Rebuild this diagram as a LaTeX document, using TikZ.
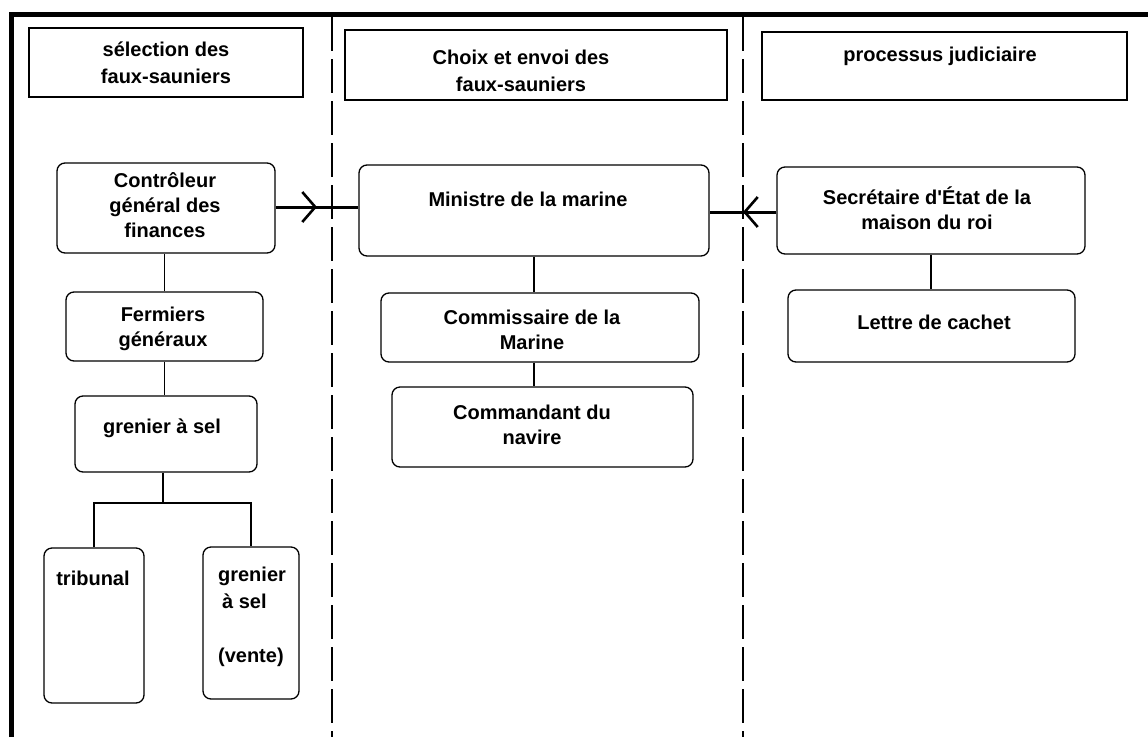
\documentclass[tikz,border=0pt]{standalone}
\usepackage{fontspec}
\setmainfont{Liberation Sans}
\usetikzlibrary{arrows.meta,decorations.markings}
\begin{document}
\begin{tikzpicture}[x=1pt,y=-1pt,
 frame/.style={line width=4.8pt},
 lane/.style={line width=1.2pt, dash pattern=on 34pt off 8pt},
 headbox/.style={draw, line width=1.3pt, rectangle, inner sep=0pt},
 box/.style={draw, line width=1.3pt, rounded corners=8pt, inner sep=0pt},
 htxt/.style={font=\fontsize{20}{26.5}\selectfont\bfseries, align=center, inner sep=0pt},
 btxt/.style={font=\fontsize{20}{25}\selectfont\bfseries, align=center, inner sep=0pt},
 tree/.style={line width=1.2pt},
 flow/.style={line width=3pt, postaction={decorate}, decoration={markings, mark=at position 0.5 with {\arrow{Straight Barb[length=13pt,width=30pt,line width=2.6pt]}}}},
]
\useasboundingbox (0,0) rectangle (1148,737);
% frame
\draw[frame] (11.7,737) -- (11.7,14.3) -- (1148,14.3);
% lanes
\draw[lane] (332,17) -- (332,737);
\draw[lane] (743,17) -- (743,737);
% headers
\node[headbox, minimum width=274pt, minimum height=69pt] (h1) at (166,62.5) {};
\node[headbox, minimum width=382pt, minimum height=70pt] (h2) at (536,65) {};
\node[headbox, minimum width=365pt, minimum height=68pt] (h3) at (944.5,66) {};
\node[htxt] (h1t) at (166,63) {sélection des\\faux-sauniers};
\node[htxt] (h2t) at (521,71) {Choix et envoi des\\faux-sauniers};
\node[htxt] (h3t) at (940,56) {processus judiciaire};
% left column
\node[box, minimum width=218pt, minimum height=90pt] (ctrl) at (166,208) {};
\node[box, minimum width=197pt, minimum height=69pt] (ferm) at (164.5,326.5) {};
\node[box, minimum width=182pt, minimum height=76pt] (gren) at (166,434) {};
\node[box, minimum width=100pt, minimum height=155pt] (trib) at (94,625.5) {};
\node[box, minimum width=96pt, minimum height=152pt] (vente) at (251,623) {};
\node[btxt] (ctrlt) at (165,205.5) {Contrôleur\\général des\\finances};
\node[btxt] (fermt) at (163,329) {Fermiers\\généraux};
\node[btxt] (grent) at (162,428) {grenier à sel};
\node[btxt] (tribt) at (93,578) {tribunal};
\node[btxt, align=left, font=\fontsize{20}{27}\selectfont\bfseries] (ventet) at (252,617) {grenier\\\hspace*{4pt}à sel\\[27pt](vente)};
% middle column
\node[box, minimum width=350pt, minimum height=91pt] (mini) at (534,210.5) {};
\node[box, minimum width=318pt, minimum height=69pt] (comm) at (540,327.5) {};
\node[box, minimum width=301pt, minimum height=80pt] (cmdt) at (542.5,427) {};
\node[btxt] (minit) at (528,199) {Ministre de la marine};
\node[btxt] (commt) at (532,330) {Commissaire de la\\Marine};
\node[btxt] (cmdtt) at (532,425) {Commandant du\\navire};
% right column
\node[box, minimum width=308pt, minimum height=87pt] (secr) at (931,210.5) {};
\node[box, minimum width=287pt, minimum height=72pt] (lett) at (931.5,326) {};
\node[btxt] (secrt) at (927,208) {Secrétaire d\textquotesingle État de la\\maison du roi};
\node[btxt] (lettt) at (934,322) {Lettre de cachet};
% tree connectors
\draw[tree] (ferm.north) -- (ferm.north |- ctrl.south);
\draw[tree] (ferm.south) -- (ferm.south |- gren.north);
\coordinate (split) at (163,503);
\draw[tree] (split |- gren.south) -- (split);
\draw[tree] (trib.north) |- (split) -| (vente.north);
\draw[tree] (mini.south) -- (mini.south |- comm.north);
\draw[tree] (mini.south |- comm.south) -- (mini.south |- cmdt.north);
\draw[tree] (secr.south) -- (secr.south |- lett.north);
% flows
\draw[flow] (ctrl.east) ++(0,-1) coordinate (a1) -- (a1 -| mini.west);
\draw[flow] (secr.west) ++(0,1.5) coordinate (a2) -- (a2 -| mini.east);
\end{tikzpicture}
\end{document}
